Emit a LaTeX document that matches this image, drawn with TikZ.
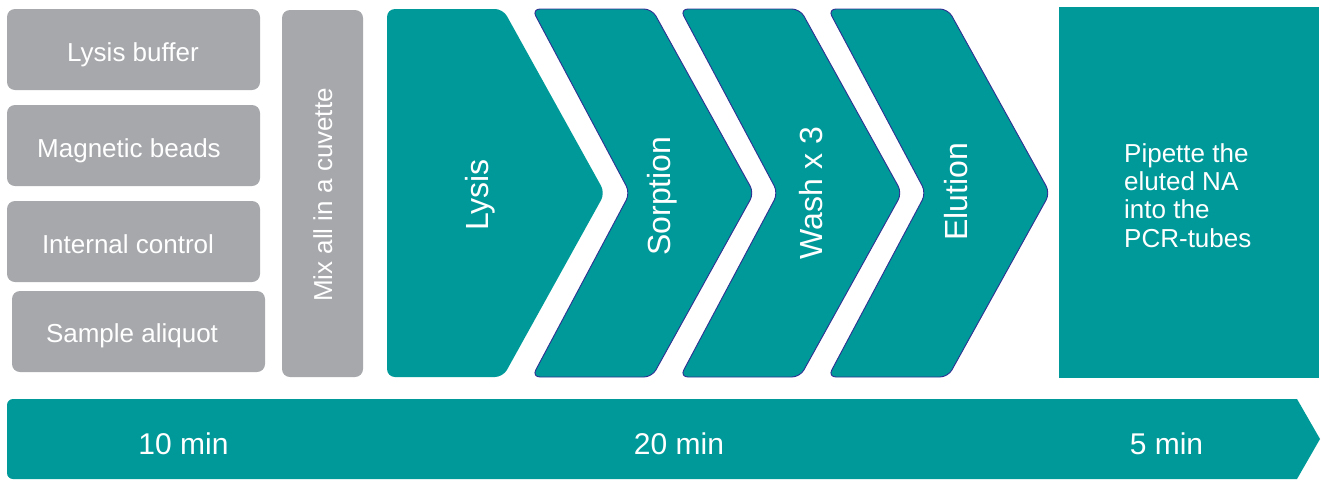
\documentclass[tikz,border=0pt]{standalone}
\usepackage{fontspec}
\setmainfont{Liberation Sans}
\definecolor{tealA}{RGB}{0,153,153}
\definecolor{grayA}{RGB}{167,168,172}
\definecolor{navyA}{RGB}{46,49,146}
\begin{document}
\begin{tikzpicture}[x=1pt,y=-1pt,
  graybox/.style={fill=grayA, draw=none, rounded corners=8pt, inner sep=0pt},
  boxlbl/.style={text=white, inner sep=0pt, anchor=base, font=\fontsize{26}{30}\selectfont},
  mixlbl/.style={text=white, inner sep=0pt, anchor=base, rotate=90, font=\fontsize{26}{30}\selectfont},
  chevlbl/.style={text=white, inner sep=0pt, anchor=base, rotate=90, font=\fontsize{32}{36}\selectfont},
  timelbl/.style={text=white, inner sep=0pt, anchor=base, font=\fontsize{30}{34}\selectfont},
  chevfill/.style={fill=tealA, rounded corners=8pt},
  chevline/.style={fill=tealA, draw=navyA, line width=0.9pt, rounded corners=8pt}]
\useasboundingbox (0,0) rectangle (1321,480);

% gray boxes
\node[graybox, minimum width=253pt, minimum height=81pt] (b1) at (133.5,49.5) {};
\node[graybox, minimum width=253pt, minimum height=81pt] (b2) at (133.5,145.5) {};
\node[graybox, minimum width=253pt, minimum height=81pt] (b3) at (133.5,241.5) {};
\node[graybox, minimum width=253pt, minimum height=81pt] (b4) at (138.5,331.5) {};
\node[graybox, minimum width=81pt, minimum height=367pt] (mix) at (322.5,193.5) {};

\node[boxlbl] (t1) at (133,61) {Lysis buffer};
\node[boxlbl] (t2) at (129,157) {Magnetic beads};
\node[boxlbl] (t3) at (128,253) {Internal control};
\node[boxlbl] (t4) at (132,342) {Sample aliquot};
\node[mixlbl] (tm) at (332,195) {Mix all in a cuvette};

% chevrons
\path[chevfill] (387,9) -- (503,9) -- (605,193) -- (503,377) -- (387,377) -- cycle;
\path[chevline] (532,9) -- (652,9) -- (754,193) -- (652,377) -- (532,377) -- (630,193) -- cycle;
\path[chevline] (680,9) -- (800,9) -- (902,193) -- (800,377) -- (680,377) -- (778,193) -- cycle;
\path[chevline] (828,9) -- (948,9) -- (1050,193) -- (948,377) -- (828,377) -- (926,193) -- cycle;

\node[chevlbl] (lys) at (488,195) {Lysis};
\node[chevlbl] (sorp) at (670,196) {Sorption};
\node[chevlbl] (wash) at (822,193) {Wash x 3};
\node[chevlbl] (elu) at (967,192) {Elution};

% final box
\node[fill=tealA, inner sep=0pt, minimum width=260pt, minimum height=371pt, anchor=north west] (pip) at (1059,7) {};
\node[text=white, inner sep=0pt, anchor=north west, align=left,
      font=\fontsize{26}{28.4}\selectfont] (piptxt) at (1124,143)
      {Pipette the\\eluted NA\\into the\\PCR-tubes};

% time bar
\fill[tealA] (1320,439) -- (1297,479) [rounded corners=6pt] -- (7,479) -- (7,399) [sharp corners] -- (1297,399) -- cycle;
\node[timelbl] (m10) at (183.5,454) {10 min};
\node[timelbl] (m20) at (679,454) {20 min};
\node[timelbl] (m5) at (1166.5,454) {5 min};
\end{tikzpicture}
\end{document}
